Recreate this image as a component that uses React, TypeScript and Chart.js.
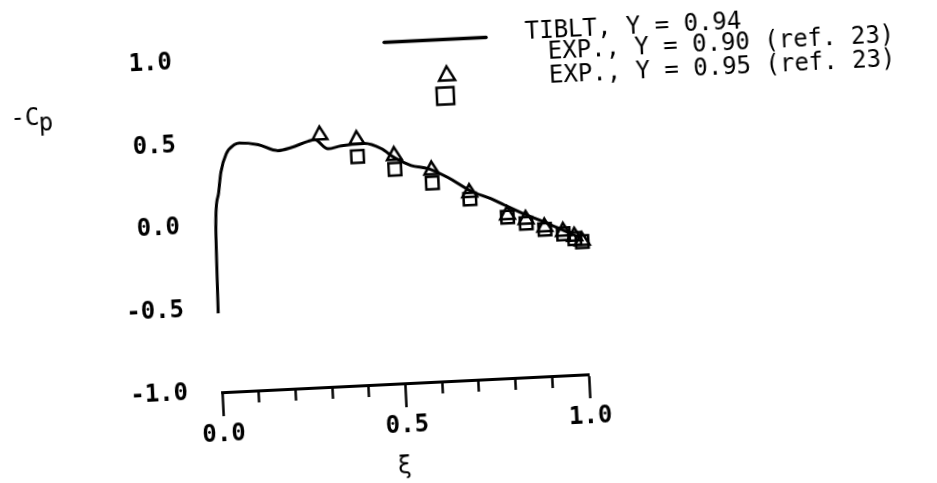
import React, { useEffect, useRef } from "react";
import { Chart, registerables } from "chart.js";

Chart.register(...registerables);

// TIBLT computed curve, Y = 0.94  (xi, -Cp)
const curveXi = [0.0, 0.005, 0.017, 0.026, 0.043, 0.067, 0.08, 0.131, 0.184, 0.221, 0.267, 0.285, 0.321, 0.357, 0.421, 0.466, 0.501, 0.545, 0.59, 0.643, 0.705, 0.758, 0.793, 0.85, 0.9, 0.95, 1.0];
const curveCp = [-0.524, -0.006, 0.2, 0.325, 0.435, 0.488, 0.496, 0.481, 0.439, 0.454, 0.486, 0.494, 0.435, 0.449, 0.456, 0.42, 0.361, 0.31, 0.287, 0.227, 0.137, 0.086, 0.045, -0.02, -0.07, -0.125, -0.18];

// Experiment, Y = 0.90 (triangles)
const triXi = [0.3, 0.4, 0.5, 0.6, 0.7, 0.8, 0.85, 0.9, 0.95, 0.98, 1.0];
const triCp = [0.52, 0.482, 0.375, 0.277, 0.129, -0.016, -0.049, -0.1, -0.132, -0.164, -0.194];

// Experiment, Y = 0.95 (squares)
const sqXi = [0.4, 0.5, 0.6, 0.7, 0.8, 0.85, 0.9, 0.95, 0.98, 1.0];
const sqCp = [0.38, 0.292, 0.199, 0.091, -0.029, -0.072, -0.114, -0.146, -0.178, -0.199];

const xTickValues = [0, 0.1, 0.2, 0.3, 0.4, 0.5, 0.6, 0.7, 0.8, 0.9, 1.0];
const xMajorTicks = [0, 0.5, 1.0];
const yTickValues = [-1.0, -0.5, 0.0, 0.5, 1.0];

const seriesLabels = ["TIBLT, Y = 0.94", "EXP., Y = 0.90 (ref. 23)", "EXP., Y = 0.95 (ref. 23)"];
const yTitleMain = "-C";
const yTitleSub = "p";
const xTitle = "ξ";

const INK = "#000";
const MONO = '"DejaVu Sans Mono", monospace';
const TICK_FONT = { family: MONO, size: 24, weight: "bold" as const };

const fmt = (v: number) => (Math.abs(v) < 1e-9 ? 0 : v).toFixed(1);
const isMajor = (v: number) => xMajorTicks.some((m) => Math.abs(m - v) < 1e-6);
const toPts = (xs: number[], ys: number[]) => xs.map((x, i) => ({ x, y: ys[i] }));

const annotate = {
  id: "annotate",
  afterDraw(chart: any) {
    const ctx = chart.ctx as CanvasRenderingContext2D;
    const labels = chart.data.datasets.map((d: any) => d.label);
    ctx.save();
    ctx.fillStyle = INK;
    ctx.strokeStyle = INK;

    // legend: line sample
    ctx.lineWidth = 3.5;
    ctx.lineCap = "round";
    ctx.beginPath();
    ctx.moveTo(394, 38.5);
    ctx.lineTo(496, 38.5);
    ctx.stroke();

    // legend: triangle
    ctx.lineWidth = 2.5;
    ctx.lineCap = "butt";
    ctx.lineJoin = "miter";
    const tx = 455, ty = 72.5, tw = 16, th = 14;
    ctx.beginPath();
    ctx.moveTo(tx, ty - th / 2);
    ctx.lineTo(tx + tw / 2, ty + th / 2);
    ctx.lineTo(tx - tw / 2, ty + th / 2);
    ctx.closePath();
    ctx.stroke();

    // legend: square
    const sx = 452.5, sy = 95, ss = 17;
    ctx.strokeRect(sx - ss / 2, sy - ss / 2, ss, ss);

    // legend texts
    ctx.font = `24px ${MONO}`;
    ctx.textAlign = "left";
    ctx.textBaseline = "alphabetic";
    ctx.fillText(labels[0], 535, 42);
    ctx.fillText(labels[1], 557, 63);
    ctx.fillText(labels[2], 557, 87);

    // y axis title -Cp
    ctx.fillText(yTitleMain, 17, 103.5);
    ctx.fillText(yTitleSub, 45, 109.5);

    // x axis title
    ctx.font = `24px "DejaVu Sans", sans-serif`;
    ctx.textAlign = "center";
    ctx.textBaseline = "middle";
    ctx.fillText(xTitle, 394, 464);
    ctx.restore();
  },
};

export default function App() {
  const ref = useRef<HTMLCanvasElement>(null);

  useEffect(() => {
    if (!ref.current) return;
    const chart = new Chart(ref.current, {
      type: "scatter",
      data: {
        datasets: [
          {
            label: seriesLabels[0],
            data: toPts(curveXi, curveCp),
            showLine: true,
            borderColor: INK,
            borderWidth: 3,
            pointRadius: 0,
            cubicInterpolationMode: "monotone",
            fill: false,
            clip: false,
          } as any,
          {
            label: seriesLabels[1],
            data: toPts(triXi, triCp),
            showLine: false,
            pointStyle: "triangle",
            pointRadius: 8.5,
            pointBorderWidth: 2.5,
            pointBorderColor: INK,
            pointBackgroundColor: "rgba(0,0,0,0)",
            clip: false,
          } as any,
          {
            label: seriesLabels[2],
            data: toPts(sqXi, sqCp),
            showLine: false,
            pointStyle: "rect",
            pointRadius: 8.8,
            pointBorderWidth: 2.5,
            pointBorderColor: INK,
            pointBackgroundColor: "rgba(0,0,0,0)",
            clip: false,
          } as any,
        ],
      },
      options: {
        responsive: false,
        animation: false,
        devicePixelRatio: 1,
        events: [],
        layout: { padding: { left: 115, right: 355, top: 20, bottom: 46 } },
        plugins: { legend: { display: false }, tooltip: { enabled: false } },
        scales: {
          x: {
            type: "linear",
            min: 0,
            max: 1,
            afterBuildTicks: (s: any) => {
              s.ticks = xTickValues.map((v) => ({ value: v }));
            },
            afterFit: (s: any) => {
              s.height = 57;
            },
            ticks: {
              autoSkip: false,
              maxRotation: 0,
              minRotation: 0,
              padding: 4,
              color: INK,
              font: TICK_FONT,
              callback: (v: any) => (isMajor(Number(v)) ? fmt(Number(v)) : ""),
            },
            grid: {
              drawOnChartArea: false,
              drawTicks: true,
              tickLength: 24,
              tickWidth: 2.5,
              tickColor: INK,
              tickBorderDash: (c: any) => (c.tick && isMajor(c.tick.value) ? [] : [10, 100]),
            },
            border: { display: true, color: INK, width: 3 },
          },
          y: {
            type: "linear",
            min: -1,
            max: 1,
            afterBuildTicks: (s: any) => {
              s.ticks = yTickValues.map((v) => ({ value: v }));
            },
            afterFit: (s: any) => {
              s.width = 100;
            },
            ticks: {
              padding: 34,
              color: INK,
              font: TICK_FONT,
              callback: (v: any) => fmt(Number(v)),
            },
            grid: { display: false, drawTicks: false, tickLength: 0 },
            border: { display: false },
          },
        },
      } as any,
      plugins: [annotate],
    });
    return () => chart.destroy();
  }, []);

  return (
    <div style={{ position: "fixed", left: 0, top: 0, width: 937, height: 483, overflow: "hidden", background: "#fff" }}>
      <div
        style={{
          position: "absolute",
          left: 0,
          top: 0,
          width: 937,
          height: 483,
          transform: "rotate(-2.8deg)",
          transformOrigin: "50% 50%",
        }}
      >
        <canvas ref={ref} width={937} height={483} style={{ display: "block", width: 937, height: 483 }} />
      </div>
    </div>
  );
}
